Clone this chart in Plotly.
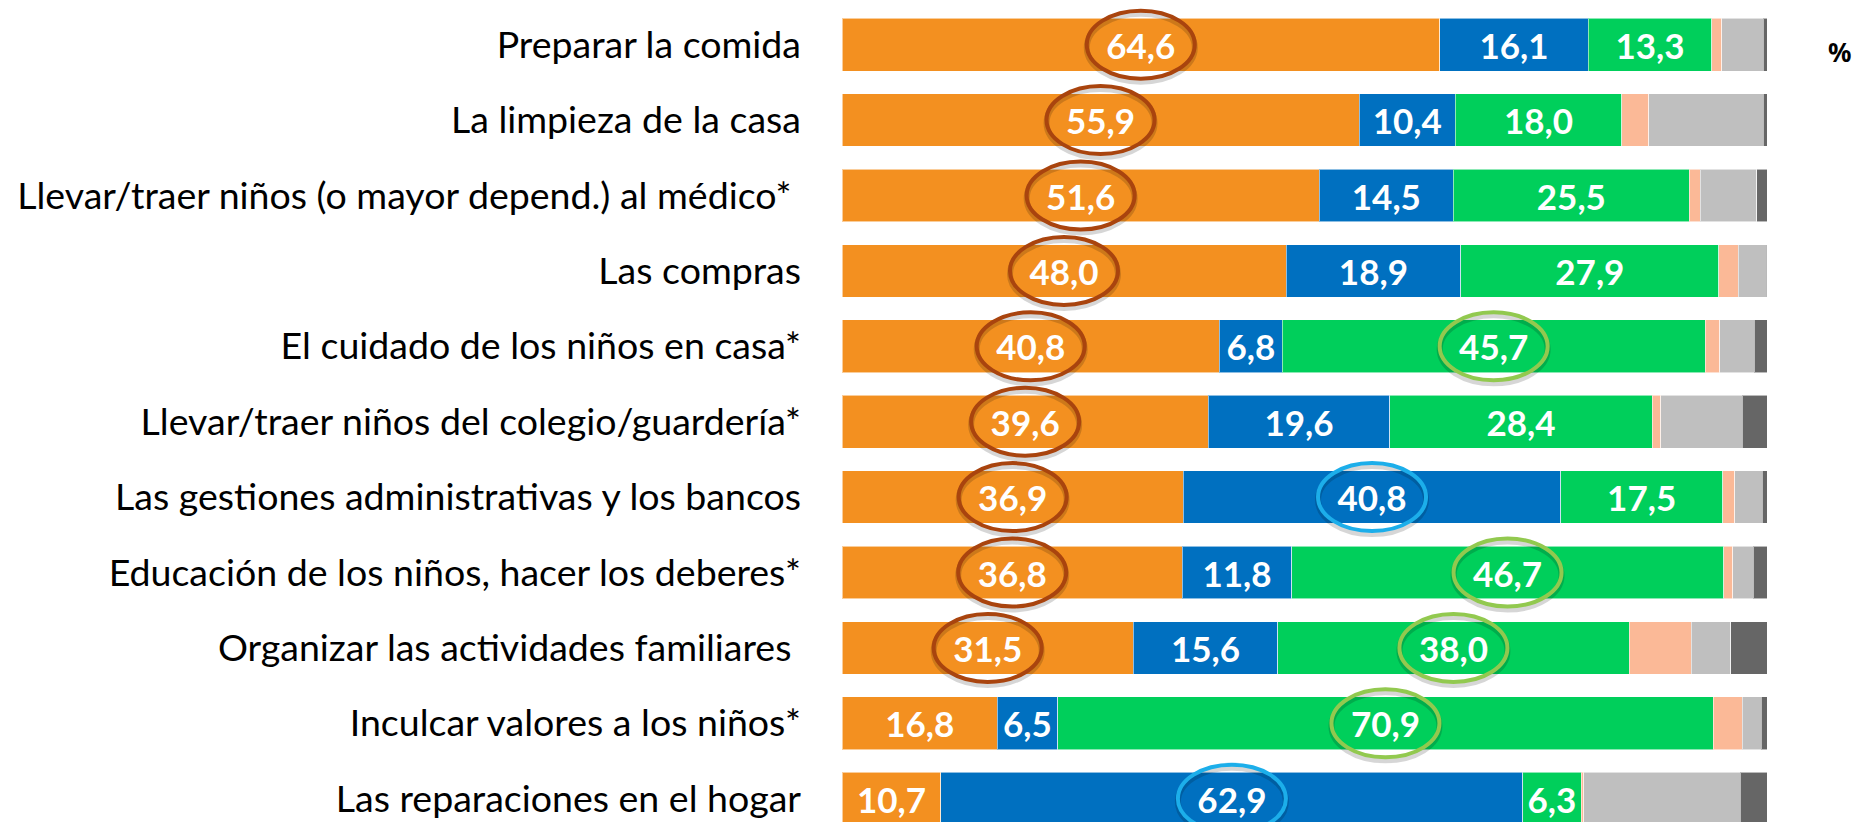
import plotly.graph_objects as go

categorias = [
    "Preparar la comida",
    "La limpieza de la casa",
    "Llevar/traer niños (o mayor depend.) al médico*\u00a0",
    "Las compras",
    "El cuidado de los niños en casa*",
    "Llevar/traer niños del colegio/guardería*",
    "Las gestiones administrativas y los bancos",
    "Educación de los niños, hacer los deberes*",
    "Organizar las actividades familiares\u00a0",
    "Inculcar valores a los niños*",
    "Las reparaciones en el hogar",
]
naranja = [64.6, 55.9, 51.6, 48.0, 40.8, 39.6, 36.9, 36.8, 31.5, 16.8, 10.7]
azul = [16.1, 10.4, 14.5, 18.9, 6.8, 19.6, 40.8, 11.8, 15.6, 6.5, 62.9]
verde = [13.3, 18.0, 25.5, 27.9, 45.7, 28.4, 17.5, 46.7, 38.0, 70.9, 6.3]
salmon = [1.1, 2.9, 1.2, 2.1, 1.6, 0.9, 1.3, 1.0, 6.7, 3.1, 0.3]
gris_claro = [4.5, 12.4, 6.1, 3.0, 3.7, 8.8, 3.0, 2.2, 4.3, 2.1, 16.9]
gris_oscuro = [0.4, 0.4, 1.1, 0.1, 1.4, 2.7, 0.5, 1.5, 3.9, 0.6, 2.9]

# highlighted labels: row indices per series
circulos_naranja = [0, 1, 2, 3, 4, 5, 6, 7, 8]
circulos_azul = [6, 10]
circulos_verde = [4, 7, 8, 9]

series = [naranja, azul, verde, salmon, gris_claro, gris_oscuro]
colores = ["#F39020", "#0070C0", "#00CF5B", "#FBB997", "#BFBFBF", "#666666"]
con_texto = [True, True, True, False, False, False]

FONT = "Lato"
fig = go.Figure()
for vals, col, txt in zip(series, colores, con_texto):
    fig.add_trace(go.Bar(
        y=categorias, x=vals, orientation="h",
        marker=dict(color=col, line=dict(color="rgba(255,255,255,0.55)", width=1)),
        width=0.70,
        texttemplate="%{x:.1f}" if txt else None,
        textposition="inside" if txt else "none",
        insidetextanchor="middle",
        textangle=0,
        textfont=dict(family=FONT, size=35, color="white", weight="bold"),
        hoverinfo="skip",
        showlegend=False,
    ))

# ellipses around highlighted values
px_x = 925 / 100.0
px_y = 75.4
hw = 54 / px_x
hh = 34 / px_y
shapes = []

def add_ellipse(row, s_idx, color):
    start = sum(series[k][row] for k in range(s_idx))
    cx = start + series[s_idx][row] / 2
    off = 3 / px_y
    shapes.append(dict(type="circle", xref="x", yref="y",
                       x0=cx - hw, x1=cx + hw, y0=row - hh + off, y1=row + hh + off,
                       line=dict(color="rgba(0,0,0,0.16)", width=6), layer="above"))
    shapes.append(dict(type="circle", xref="x", yref="y",
                       x0=cx - hw, x1=cx + hw, y0=row - hh, y1=row + hh,
                       line=dict(color=color, width=4), layer="above"))

for r in circulos_naranja:
    add_ellipse(r, 0, "#A9440E")
for r in circulos_azul:
    add_ellipse(r, 1, "#1CAEEA")
for r in circulos_verde:
    add_ellipse(r, 2, "#92C94F")

fig.update_layout(
    barmode="stack",
    width=1862, height=822,
    margin=dict(l=842, r=95, t=0, b=0, autoexpand=False),
    plot_bgcolor="white", paper_bgcolor="white",
    separators=", ",
    shapes=shapes,
    uniformtext=dict(minsize=35, mode="show"),
    xaxis=dict(range=[0, 100], visible=False, fixedrange=True),
    yaxis=dict(
        categoryorder="array", categoryarray=categorias,
        range=[(822 - 44.7) / px_y, -44.7 / px_y],
        showgrid=False, zeroline=False, showline=False, ticks="",
        ticklabelstandoff=40,
        tickfont=dict(family=FONT, size=37.5, color="black"),
        automargin=False,
    ),
    annotations=[dict(text="<b>%</b>", xref="paper", yref="paper",
                      x=1.0 + (1839 - 1767) / 925, y=1 - 52 / 822,
                      xanchor="center", yanchor="middle", showarrow=False,
                      font=dict(family="Noto Sans", size=26, color="black"))],
)

fig.write_html("out.html", config={"displayModeBar": False},
               post_script="document.body.style.margin='0';document.body.style.overflow='hidden';")
